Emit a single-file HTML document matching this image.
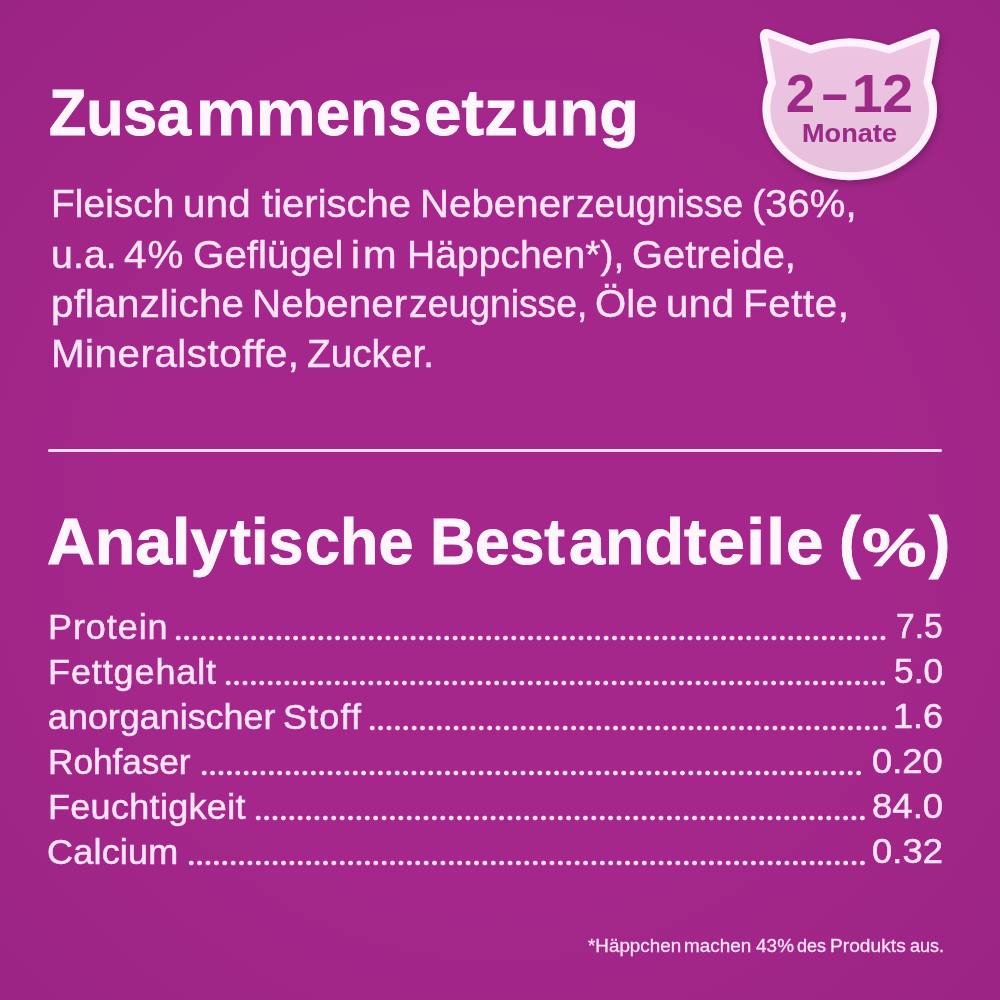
<!DOCTYPE html>
<html lang="de">
<head>
<meta charset="utf-8">
<title>Zusammensetzung</title>
<style>
html,body{margin:0;padding:0;}
body{width:1000px;height:1000px;overflow:hidden;position:relative;
 font-family:"Liberation Sans",sans-serif;
 background:#a2268a radial-gradient(circle farthest-corner at 50% 52%, #a6278c 0%, #a5278b 52%, #9a2483 100%);}
.ln{position:absolute;left:0;width:1000px;height:0;margin:0;padding:0;line-height:1;font-weight:normal;white-space:nowrap;}
.ln span{position:absolute;top:0;white-space:nowrap;transform-origin:0 0;}
.hr{position:absolute;left:48px;top:448.5px;width:894px;height:3.2px;background:#fddcf9;border-radius:1.6px;}
.dots{position:absolute;height:6px;}
svg{position:absolute;left:0;top:0;}
</style>
</head>
<body>

<svg width="1000" height="1000" viewBox="0 0 1000 1000">
<defs>
<filter id="sh" x="-20%" y="-20%" width="150%" height="150%">
<feGaussianBlur in="SourceAlpha" stdDeviation="4.5"/>
<feOffset dx="2" dy="3" result="b"/>
<feComponentTransfer><feFuncA type="linear" slope="0.22"/></feComponentTransfer>
<feMerge><feMergeNode/><feMergeNode in="SourceGraphic"/></feMerge>
</filter>
<linearGradient id="pg" x1="0" y1="0" x2="0" y2="1"><stop offset="0" stop-color="#eec5e3"/><stop offset="1" stop-color="#e6c1dc"/></linearGradient>
</defs>
<path id="cat" filter="url(#sh)" fill="url(#pg)" stroke="#fff2fc" stroke-width="8" stroke-linejoin="round"
 d="M849.7 42.2 C838.0 42.5 824.0 45.0 810.5 49.5 L769.3 33.7 Q762.8 31.2 764.0 38.1 L772.0 83.0 C768.0 92.0 766.2 101.0 766.4 110.0 C766.8 145.0 802.0 176.2 849.7 176.2 C897.4 176.2 932.6 145.0 933.0 110.0 C933.2 101.0 931.4 92.0 927.4 83.0 L935.4 38.1 Q936.6 31.2 930.1 33.7 L888.9 49.5 C875.4 45.0 861.4 42.5 849.7 42.2 Z"/>
</svg>
<div class="ln" id="b1" style="top:66.63px;font-size:53.6px;color:#9c2a86;font-weight:bold;-webkit-text-stroke:0.2px #9c2a86"><span id="b1w0" style="left:785.56px;transform:scaleX(0.9727)">2</span><span id="b1w1" style="left:821.63px;transform:scaleX(0.8564)">–</span><span id="b1w2" style="left:851.79px;letter-spacing:-0.009px;transform:scaleX(1.0230)">12</span></div>
<div class="ln" id="b2" style="top:120.76px;font-size:25.8px;color:#9c2a86;font-weight:bold;-webkit-text-stroke:0.1px #9c2a86"><span id="b2w0" style="left:802.46px;letter-spacing:0.035px;transform:scaleX(1.0500)">Monate</span></div>
<h1 class="ln" id="h1" style="top:81.25px;font-size:64.2px;color:#fff6fd;font-weight:bold;-webkit-text-stroke:0.9px #fff6fd"><span id="h1w0" style="left:49.26px;letter-spacing:-0.115px;transform:scaleX(0.9500)">Zusa</span><span id="h1w1" style="left:196.07px;letter-spacing:0.036px;transform:scaleX(1.0471)">mm</span><span id="h1w2" style="left:316.23px;letter-spacing:0.156px;transform:scaleX(0.9528)">ens</span><span id="h1w3" style="left:424.04px;letter-spacing:0.103px;transform:scaleX(1.0500)">etz</span><span id="h1w4" style="left:520.29px;letter-spacing:0.082px;transform:scaleX(1.0077)">ung</span></h1>
<div class="ln" id="p1" style="top:185.49px;font-size:38.4px;color:#fde3f8;-webkit-text-stroke:0.45px #fde3f8"><span id="p1w0" style="left:51.01px;letter-spacing:0.061px;transform:scaleX(1.0120)">Fleisch</span> <span id="p1w1" style="left:183.05px;letter-spacing:0.224px;transform:scaleX(1.0500)">und</span> <span id="p1w2" style="left:262.06px;letter-spacing:-0.007px;transform:scaleX(1.0438)">tierische</span> <span id="p1w3" style="left:419.83px;letter-spacing:0.030px;transform:scaleX(1.0476)">Nebener</span><span id="p1w4" style="left:576.20px;letter-spacing:0.006px;transform:scaleX(0.9664)">zeugnisse</span> <span id="p1w5" style="left:752.29px;letter-spacing:0.020px;transform:scaleX(1.0412)">(36%,</span></div>
<div class="ln" id="p2" style="top:235.79px;font-size:38.4px;color:#fde3f8;-webkit-text-stroke:0.45px #fde3f8"><span id="p2w0" style="left:51.21px;letter-spacing:0.094px;transform:scaleX(1.0223)">u.a.</span> <span id="p2w1" style="left:124.35px;letter-spacing:1.012px;transform:scaleX(1.0500)">4%</span> <span id="p2w2" style="left:193.40px;letter-spacing:0.029px;transform:scaleX(1.0500)">Geflügel</span> <span id="p2w3" style="left:350.89px;letter-spacing:2.811px;transform:scaleX(1.0500)">im</span> <span id="p2w4" style="left:406.98px;letter-spacing:0.044px;transform:scaleX(1.0169)">Häppchen*),</span> <span id="p2w5" style="left:631.98px;transform:scaleX(1.0382)">Getreide,</span></div>
<div class="ln" id="p3" style="top:285.49px;font-size:38.4px;color:#fde3f8;-webkit-text-stroke:0.45px #fde3f8"><span id="p3w0" style="left:51.03px;letter-spacing:0.239px;transform:scaleX(1.0500)">pflanzliche</span> <span id="p3w1" style="left:252.26px;letter-spacing:0.071px;transform:scaleX(1.0500)">Nebener</span><span id="p3w2" style="left:409.23px;letter-spacing:0.010px;transform:scaleX(0.9713)">zeugnisse,</span> <span id="p3w3" style="left:594.89px;letter-spacing:0.189px;transform:scaleX(1.0426)">Öle</span> <span id="p3w4" style="left:665.53px;letter-spacing:0.325px;transform:scaleX(1.0500)">und</span> <span id="p3w5" style="left:742.76px;letter-spacing:0.572px;transform:scaleX(1.0500)">Fette,</span></div>
<div class="ln" id="p4" style="top:335.29px;font-size:38.4px;color:#fde3f8;-webkit-text-stroke:0.45px #fde3f8"><span id="p4w0" style="left:51.26px;letter-spacing:0.499px;transform:scaleX(1.0500)">Mineralstoffe,</span> <span id="p4w1" style="left:307.45px;letter-spacing:0.058px;transform:scaleX(1.0068)">Zucker.</span></div>
<div class="hr"></div>
<h2 class="ln" id="h2" style="top:510.45px;font-size:64.2px;color:#fff6fd;font-weight:bold;-webkit-text-stroke:0.9px #fff6fd"><span id="h2w0" style="left:47.26px;letter-spacing:-0.057px;transform:scaleX(1.0328)">Analy</span><span id="h2w1" style="left:229.51px;letter-spacing:0.024px;transform:scaleX(0.9791)">tis</span><span id="h2w2" style="left:305.07px;letter-spacing:0.084px;transform:scaleX(0.9806)">che</span> <span id="h2w3" style="left:430.45px;letter-spacing:0.009px;transform:scaleX(0.9706)">Best</span><span id="h2w4" style="left:568.74px;letter-spacing:0.038px;transform:scaleX(1.0073)">and</span><span id="h2w5" style="left:684.39px;letter-spacing:1.104px;transform:scaleX(1.0500)">teile</span> <span id="h2w6" style="left:839.42px;transform:translateY(-2.9px) scale(1.0107,1.08)">(</span><span id="h2w7" style="left:862.47px;transform:translateY(11.2px) scale(1.1297,0.83)">%</span><span id="h2w8" style="left:928.68px;transform:translateY(-2.9px) scale(0.9928,1.08)">)</span></h2>
<div class="ln" id="r1l" style="top:610.37px;font-size:34.3px;color:#fde3f8;-webkit-text-stroke:0.5px #fde3f8"><span id="r1lw0" style="left:47.53px;letter-spacing:0.870px;transform:scaleX(1.0500)">Protein</span></div>
<div class="dots" id="r1d" style="left:174.00px;top:634.50px;width:714.00px;background:radial-gradient(circle at center, #fde3f8 0, #fde3f8 1.95px, rgba(253,227,248,0) 2.75px) 0 0/8.4px 6px repeat-x"></div>
<div class="ln" id="r1v" style="top:609.43px;font-size:35.4px;color:#fde3f8;-webkit-text-stroke:0.5px #fde3f8"><span id="r1vw0" style="left:895.77px;letter-spacing:-0.075px;transform:scaleX(0.9511)">7.5</span></div>
<div class="ln" id="r2l" style="top:655.37px;font-size:34.3px;color:#fde3f8;-webkit-text-stroke:0.5px #fde3f8"><span id="r2lw0" style="left:47.53px;letter-spacing:0.840px;transform:scaleX(1.0500)">Fettgehalt</span></div>
<div class="dots" id="r2d" style="left:224.20px;top:679.50px;width:663.60px;background:radial-gradient(circle at center, #fde3f8 0, #fde3f8 1.95px, rgba(253,227,248,0) 2.75px) 0 0/8.4px 6px repeat-x"></div>
<div class="ln" id="r2v" style="top:654.43px;font-size:35.4px;color:#fde3f8;-webkit-text-stroke:0.5px #fde3f8"><span id="r2vw0" style="left:893.60px;letter-spacing:0.067px;transform:scaleX(0.9940)">5.0</span></div>
<div class="ln" id="r3l" style="top:700.37px;font-size:34.3px;color:#fde3f8;-webkit-text-stroke:0.5px #fde3f8"><span id="r3lw0" style="left:48.13px;letter-spacing:0.005px;transform:scaleX(1.0458)">anorganischer</span> <span id="r3lw1" style="left:283.23px;letter-spacing:1.086px;transform:scaleX(1.0500)">Stoff</span></div>
<div class="dots" id="r3d" style="left:368.40px;top:724.50px;width:520.80px;background:radial-gradient(circle at center, #fde3f8 0, #fde3f8 1.95px, rgba(253,227,248,0) 2.75px) 0 0/8.4px 6px repeat-x"></div>
<div class="ln" id="r3v" style="top:699.43px;font-size:35.4px;color:#fde3f8;-webkit-text-stroke:0.5px #fde3f8"><span id="r3vw0" style="left:892.91px;letter-spacing:-0.063px;transform:scaleX(1.0186)">1.6</span></div>
<div class="ln" id="r4l" style="top:745.37px;font-size:34.3px;color:#fde3f8;-webkit-text-stroke:0.5px #fde3f8"><span id="r4lw0" style="left:47.90px;letter-spacing:-0.030px;transform:scaleX(1.0260)">Rohfaser</span></div>
<div class="dots" id="r4d" style="left:200.40px;top:769.50px;width:663.60px;background:radial-gradient(circle at center, #fde3f8 0, #fde3f8 1.95px, rgba(253,227,248,0) 2.75px) 0 0/8.4px 6px repeat-x"></div>
<div class="ln" id="r4v" style="top:744.43px;font-size:35.4px;color:#fde3f8;-webkit-text-stroke:0.5px #fde3f8"><span id="r4vw0" style="left:872.30px;letter-spacing:-0.030px;transform:scaleX(1.0276)">0.20</span></div>
<div class="ln" id="r5l" style="top:790.37px;font-size:34.3px;color:#fde3f8;-webkit-text-stroke:0.5px #fde3f8"><span id="r5lw0" style="left:47.53px;letter-spacing:0.285px;transform:scaleX(1.0500)">Feuchtigkeit</span></div>
<div class="dots" id="r5d" style="left:253.80px;top:814.50px;width:613.20px;background:radial-gradient(circle at center, #fde3f8 0, #fde3f8 1.95px, rgba(253,227,248,0) 2.75px) 0 0/8.4px 6px repeat-x"></div>
<div class="ln" id="r5v" style="top:789.43px;font-size:35.4px;color:#fde3f8;-webkit-text-stroke:0.5px #fde3f8"><span id="r5vw0" style="left:871.54px;letter-spacing:0.016px;transform:scaleX(1.0315)">84.0</span></div>
<div class="ln" id="r6l" style="top:835.37px;font-size:34.3px;color:#fde3f8;-webkit-text-stroke:0.5px #fde3f8"><span id="r6lw0" style="left:47.26px;letter-spacing:0.198px;transform:scaleX(1.0500)">Calcium</span></div>
<div class="dots" id="r6d" style="left:186.90px;top:859.50px;width:680.40px;background:radial-gradient(circle at center, #fde3f8 0, #fde3f8 1.95px, rgba(253,227,248,0) 2.75px) 0 0/8.4px 6px repeat-x"></div>
<div class="ln" id="r6v" style="top:834.43px;font-size:35.4px;color:#fde3f8;-webkit-text-stroke:0.5px #fde3f8"><span id="r6vw0" style="left:872.30px;letter-spacing:0.040px;transform:scaleX(1.0270)">0.32</span></div>
<div class="ln" id="ft" style="top:936.59px;font-size:18.2px;color:#fde3f8;-webkit-text-stroke:0.3px #fde3f8"><span id="ftw0" style="left:587.99px;letter-spacing:0.014px;transform:scaleX(1.0334)">*Häppchen</span> <span id="ftw1" style="left:684.49px;letter-spacing:-0.008px;transform:scaleX(1.0383)">machen</span> <span id="ftw2" style="left:756.04px;letter-spacing:0.058px;transform:scaleX(1.0389)">43%</span> <span id="ftw3" style="left:797.09px;letter-spacing:0.031px;transform:scaleX(0.9887)">des</span> <span id="ftw4" style="left:829.89px;letter-spacing:0.049px;transform:scaleX(1.0500)">Produkts</span> <span id="ftw5" style="left:909.98px;letter-spacing:-0.054px;transform:scaleX(0.9906)">aus.</span></div>
</body>
</html>
